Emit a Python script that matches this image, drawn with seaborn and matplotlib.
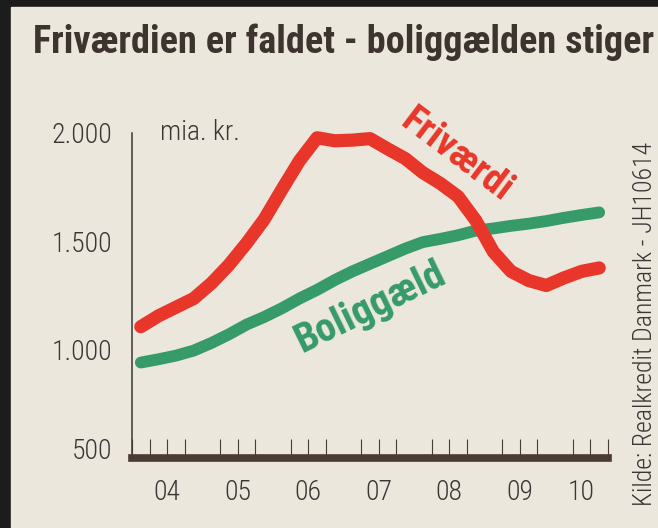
import numpy as np
import pandas as pd
import seaborn as sns
import matplotlib.pyplot as plt
import matplotlib.ticker as mt
import matplotlib.transforms as mtrans
from matplotlib import font_manager as fm
from matplotlib.patches import Rectangle

# Quarterly data, mia. kr.
years = [2004, 2005, 2006, 2007, 2008, 2009, 2010]
year_labels = ['04', '05', '06', '07', '08', '09', '10']
quarters = [y + (q - 0.5) / 4 for y in years for q in range(1, 5)][:27]

frivaerdi = [1105, 1155, 1195, 1235, 1305, 1390, 1490, 1600, 1737, 1870, 1976, 1962, 1965, 1972,
             1925, 1880, 1815, 1765, 1705, 1595, 1450, 1360, 1318, 1295, 1330, 1360, 1376]
boliggaeld = [940, 955, 972, 995, 1030, 1070, 1115, 1150, 1190, 1235, 1275, 1320, 1360, 1395,
              1430, 1465, 1495, 1510, 1527, 1548, 1558, 1570, 1580, 1592, 1607, 1620, 1632]
y_ticks = [500, 1000, 1500, 2000]

df = pd.DataFrame({'tid': quarters * 2,
                   'mia': frivaerdi + boliggaeld,
                   'serie': ['Friværdi'] * len(quarters) + ['Boliggæld'] * len(quarters)})

bg = '#ebe7dc'
red = '#e8372a'
green = '#369a69'
ink = '#3a3636'

sns.set_theme(style='white')
avail = {f.name for f in fm.fontManager.ttflist}
cond = next((n for n in ['Liberation Sans Narrow', 'Roboto Condensed', 'Open Sans Condensed']
             if n in avail), 'DejaVu Sans')
plt.rcParams['font.family'] = [cond, 'DejaVu Sans']
plt.rcParams['font.stretch'] = 'condensed'

fig = plt.figure(figsize=(6.58, 5.28), dpi=100, facecolor='#1c1c1c')
fig.patches.append(Rectangle((11 / 658, 0), 1, 1 - 7 / 528, transform=fig.transFigure,
                             color=bg, zorder=-5))
ax = fig.add_axes([132 / 658, 1 - 458 / 528, 476 / 658, 358 / 528])
ax.set_facecolor('none')
ax.set_zorder(2)

sns.lineplot(data=df[df.serie == 'Boliggæld'], x='tid', y='mia', color=green, linewidth=8.5,
             solid_capstyle='round', ax=ax)
sns.lineplot(data=df[df.serie == 'Friværdi'], x='tid', y='mia', color=red, linewidth=9.5,
             solid_capstyle='round', ax=ax)
for ln in ax.lines:
    ln.set_clip_on(False)

ax.set_xlim(2004, 2010.75)
ax.set_ylim(500, 2150)
ax.set_xlabel('')
ax.set_ylabel('')

for s in ['top', 'right']:
    ax.spines[s].set_visible(False)
ax.spines['left'].set_bounds(500, 2000)
ax.spines['left'].set_linewidth(1.1)
ax.spines['left'].set_color(ink)
ax.spines['bottom'].set_linewidth(5.5)
ax.spines['bottom'].set_color('#4b3b32')
ax.spines['bottom'].set_zorder(5)

# x axis: thick ticks at year boundaries, thin ones each quarter
ax.set_xticks(years[1:])
ax.xaxis.set_minor_locator(mt.MultipleLocator(0.25))
ax.tick_params(axis='x', which='major', direction='in', length=14, width=2.4,
               color='#4b3b32', labelbottom=False)
ax.tick_params(axis='x', which='minor', direction='in', length=13.5, width=0.8,
               color='#4b3b32', bottom=True)
xmax = ax.get_xlim()[1]
for yr, lab in zip(years, year_labels):
    pos = min(yr + 0.5, (yr + xmax) / 2)
    ax.annotate(lab, xy=(pos, 0), xycoords=ax.get_xaxis_transform(), xytext=(0, -25),
                textcoords='offset points', ha='center', va='center', fontsize=20,
                fontweight='light', color=ink)

ax.set_yticks(y_ticks)
ax.set_yticklabels([f'{v:,}'.replace(',', '.') for v in y_ticks], fontweight='light')
ax.tick_params(axis='y', direction='in', length=7, width=1, color=ink, pad=14,
               labelsize=20, labelcolor=ink)
lab500 = ax.yaxis.get_major_ticks()[0].label1
lab500.set_transform(lab500.get_transform() + mtrans.ScaledTranslation(0, 7 / 72, fig.dpi_scale_trans))

ax.annotate('mia. kr.', xy=(2004, 2000), xytext=(20, 0), textcoords='offset points',
            ha='left', va='center', fontsize=20, fontweight='light', color=ink)

ax.text(2008.6, 1895, 'Friværdi', rotation=-37, rotation_mode='anchor', ha='center',
        va='center', fontsize=28, fontweight='bold', color=red)
ax.text(2007.38, 1195, 'Boliggæld', rotation=26, rotation_mode='anchor', ha='center',
        va='center', fontsize=29, fontweight='bold', color=green)

fig.text(33 / 658, 1 - 42 / 528, 'Friværdien er faldet - boliggælden stiger', ha='left',
         va='center', fontsize=27.5, fontweight='bold', color='#3d3430')
fig.text(645 / 658, 1 - 324 / 528, 'Kilde: Realkredit Danmark - JH10614', rotation=90,
         ha='center', va='center', fontsize=18.5, fontweight='light', color=ink)

fig.savefig('out.png', dpi=100, facecolor=fig.get_facecolor())
